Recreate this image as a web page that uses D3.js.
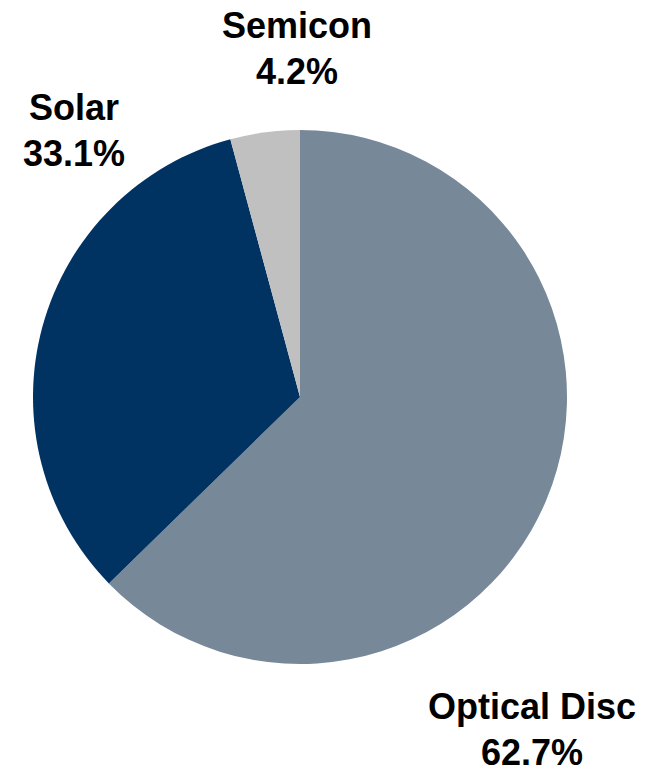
<!DOCTYPE html>
<html>
<head>
<meta charset="utf-8">
<script src="https://cdn.jsdelivr.net/npm/d3@7"></script>
<style>
  body { margin: 0; background: #fff; }
  text { font-family: "Liberation Sans", Arial, sans-serif; font-weight: bold; fill: #000; }
</style>
</head>
<body>
<div id="chart"></div>
<script>
const categories = ["Optical Disc", "Solar", "Semicon"];
const shares = [62.7, 33.1, 4.2];
const colors = ["#778899", "#003262", "#c0c0c0"];
// label anchor (centre of the two-line label, baseline of first line)
const labelPos = [[532, 719], [74, 120], [297, 38]];

const width = 660, height = 772;
const cx = 300, cy = 397, radius = 267;

const svg = d3.select("#chart")
    .append("svg")
    .attr("width", width)
    .attr("height", height);

const pie = d3.pie().sort(null).value(d => d);
const arc = d3.arc().innerRadius(0).outerRadius(radius);

const g = svg.append("g")
    .attr("transform", `translate(${cx}, ${cy})`);

g.selectAll("path")
    .data(pie(shares))
    .enter()
    .append("path")
    .attr("d", arc)
    .attr("fill", (d, i) => colors[i]);

const labels = svg.selectAll("text.label")
    .data(categories)
    .enter()
    .append("text")
    .attr("class", "label")
    .attr("text-anchor", "middle")
    .style("font-size", "36px")
    .attr("x", (d, i) => labelPos[i][0])
    .attr("y", (d, i) => labelPos[i][1]);

labels.append("tspan")
    .attr("x", (d, i) => labelPos[i][0])
    .text(d => d);

labels.append("tspan")
    .attr("x", (d, i) => labelPos[i][0])
    .attr("dy", 46)
    .text((d, i) => shares[i].toFixed(1) + "%");
</script>
</body>
</html>
